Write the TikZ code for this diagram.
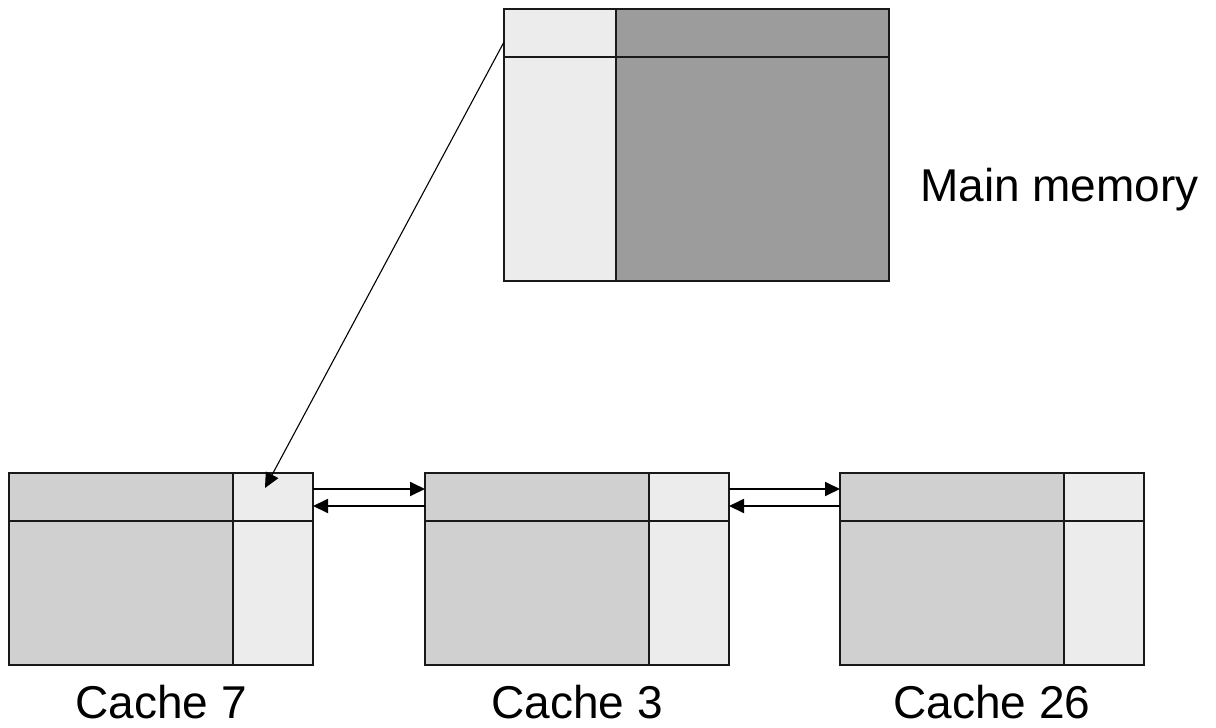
\documentclass[tikz,border=0pt]{standalone}
\usepackage{fontspec}
\setmainfont{Liberation Sans}
\usetikzlibrary{positioning,arrows.meta}
\definecolor{taggray}{HTML}{ECECEC}
\definecolor{cachegray}{HTML}{D0D0D0}
\definecolor{memgray}{HTML}{9C9C9C}
\tikzset{
	cell/.style={draw=black!90, line width=1.4pt, inner sep=0pt, outer sep=0pt, anchor=north west},
	caption/.style={font=\fontsize{46}{55}\selectfont, inner sep=0pt},
	link/.style={line width=1.1pt, -{Triangle[length=15pt,width=14pt]}},
	bus/.style={line width=1.8pt, -{Triangle[length=15pt,width=14pt]}}
}
\begin{document}
\begin{tikzpicture}[x=1pt,y=-1pt]
				\useasboundingbox (0,0) rectangle (1216,728);
				\node (memtag) [cell, fill=taggray, minimum width=112pt, minimum height=48pt] at (504,9) {};
				\node (memhead) [cell, fill=memgray, minimum width=273pt, minimum height=48pt, right=0pt of memtag] {};
				\node (memcol) [cell, fill=taggray, minimum width=112pt, minimum height=224pt, below=0pt of memtag] {};
				\node (membody) [cell, fill=memgray, minimum width=273pt, minimum height=224pt, below=0pt of memhead] {};
				\node (memlabel) [caption, anchor=base west] at (920,201) {Main memory};
				\foreach \num/\x in {7/9, 3/425, 26/840} {
					\node (c\num-head) [cell, fill=cachegray, minimum width=224pt, minimum height=48pt] at (\x,473) {};
					\node (c\num-tag) [cell, fill=taggray, minimum width=80pt, minimum height=48pt, right=0pt of c\num-head] {};
					\node (c\num-body) [cell, fill=cachegray, minimum width=224pt, minimum height=144pt, below=0pt of c\num-head] {};
					\node (c\num-col) [cell, fill=taggray, minimum width=80pt, minimum height=144pt, below=0pt of c\num-tag] {};
					\node (c\num-label) [caption, anchor=base] at ([xshift=40pt,yshift=-53pt]c\num-body.south) {Cache \num};
				}
				\draw [link] ([yshift=-9pt]memtag.west) -- ([xshift=-8pt,yshift=9pt]c7-tag.center);
				\draw [bus] ([yshift=8pt]c7-tag.east) -- ([yshift=8pt]c3-head.west);
				\draw [bus] ([yshift=-9pt]c3-head.west) -- ([yshift=-9pt]c7-tag.east);
				\draw [bus] ([yshift=8pt]c3-tag.east) -- ([yshift=8pt]c26-head.west);
				\draw [bus] ([yshift=-9pt]c26-head.west) -- ([yshift=-9pt]c3-tag.east);
\end{tikzpicture}
\end{document}
